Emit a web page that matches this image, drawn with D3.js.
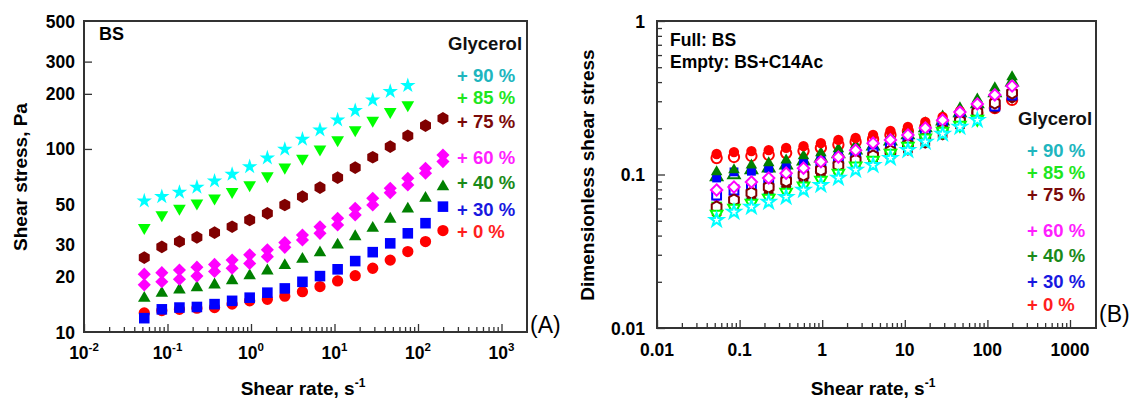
<!DOCTYPE html>
<html><head><meta charset="utf-8">
<script src="https://cdn.jsdelivr.net/npm/d3@7"></script>
<style>
body{margin:0;background:#fff}
svg{display:block}
text{font-family:"Liberation Sans",Arial,sans-serif;font-weight:bold}
</style></head><body>
<svg id="c" width="1134" height="399"></svg>
<script>
// ---------- DATA ----------
const shearRate = [0.0527, 0.0855, 0.139, 0.225, 0.366, 0.594, 0.964, 1.57, 2.54, 4.13, 6.7, 10.9, 17.7, 28.7, 46.5, 75.5, 123, 199];
const glycerolLabels = ["+ 90 %", "+ 85 %", "+ 75 %", "+ 60 %", "+ 40 %", "+ 30 %", "+ 0 %"];

// Panel A: shear stress, Pa (BS)
const stressG90 = [52.0, 54.9, 58.0, 61.8, 66.8, 72.7, 80.0, 89.3, 99.6, 113, 127, 144, 162, 185, 206, 222];
const stressG85 = [37.2, 43.6, 47.4, 50.5, 53.8, 58.4, 63.6, 71.2, 79.4, 88.9, 99.6, 112, 127, 143, 160, 174];
const stressG75 = [25.5, 29.2, 31.2, 32.9, 34.9, 37.6, 40.9, 44.5, 49.4, 54.9, 61.5, 69.7, 79.0, 90.1, 103, 118, 134, 147];
const stressG60a = [20.7, 21.1, 21.8, 22.6, 23.4, 24.7, 26.4, 28.1, 30.8, 33.9, 37.6, 41.8, 47.4, 53.8, 61.0, 69.2, 78.5, 92.7];
const stressG60b = [18.1, 18.8, 19.4, 20.2, 21.4, 22.3, 23.7, 25.8, 29.0, 31.8, 34.6, 38.4, 43.6, 49.4, 57.7, 63.6, 73.6, 85.3];
const stressG40 = [15.3, 16.3, 17.0, 17.5, 18.1, 19.1, 20.3, 21.6, 23.1, 25.0, 27.1, 29.9, 33.2, 36.9, 41.4, 47.0, 53.8, 62.2];
const stressG30 = [11.9, 13.3, 13.6, 13.7, 14.2, 14.8, 15.4, 16.4, 17.3, 18.8, 20.2, 22.0, 24.4, 27.3, 30.5, 34.6, 39.3, 48.4];
const stressG0 = [12.7, 13.1, 13.3, 13.5, 13.6, 14.2, 14.8, 15.1, 15.7, 16.6, 17.7, 19.0, 20.3, 22.3, 24.7, 27.5, 31.2, 35.8];

// Panel B: dimensionless shear stress, Full = BS, Empty = BS+C14Ac
const dimBS90 = [0.0570, 0.0623, 0.0682, 0.0735, 0.0817, 0.0921, 0.102, 0.115, 0.128, 0.140, 0.156, 0.173, 0.195, 0.213, 0.230, 0.240];
const dimBS85 = [0.0633, 0.0682, 0.0735, 0.0793, 0.0867, 0.0949, 0.104, 0.115, 0.128, 0.140, 0.153, 0.170, 0.189, 0.207, 0.226, 0.248];
const dimBS75 = [0.0561, 0.0614, 0.0682, 0.0746, 0.0817, 0.0894, 0.0978, 0.105, 0.114, 0.122, 0.132, 0.144, 0.160, 0.181, 0.207, 0.237, 0.271, 0.315];
const dimBS60 = [0.0703, 0.0735, 0.0793, 0.0842, 0.0907, 0.0963, 0.104, 0.112, 0.124, 0.138, 0.151, 0.165, 0.181, 0.201, 0.226, 0.255, 0.288, 0.330];
const dimBS40 = [0.104, 0.107, 0.115, 0.119, 0.124, 0.132, 0.138, 0.147, 0.156, 0.165, 0.178, 0.195, 0.217, 0.240, 0.271, 0.310, 0.366, 0.432];
const dimBS30 = [0.0949, 0.104, 0.105, 0.110, 0.112, 0.121, 0.128, 0.136, 0.144, 0.153, 0.165, 0.178, 0.195, 0.213, 0.233, 0.259, 0.288, 0.325];
const dimBS0 = [0.136, 0.140, 0.142, 0.144, 0.149, 0.153, 0.160, 0.168, 0.173, 0.181, 0.192, 0.204, 0.220, 0.237, 0.259, 0.284, 0.306, 0.340];

const dimC14_90 = [0.0505, 0.0570, 0.0614, 0.0662, 0.0713, 0.0793, 0.0854, 0.0949, 0.107, 0.115, 0.128, 0.144, 0.163, 0.184, 0.204, 0.226];
const dimC14_85 = [0.0553, 0.0605, 0.0652, 0.0703, 0.0769, 0.0842, 0.0921, 0.102, 0.114, 0.124, 0.138, 0.153, 0.173, 0.192, 0.210, 0.230];
const dimC14_75 = [0.0614, 0.0682, 0.0758, 0.0829, 0.0907, 0.0993, 0.107, 0.115, 0.124, 0.132, 0.142, 0.156, 0.173, 0.195, 0.223, 0.255, 0.292, 0.340];
const dimC14_60 = [0.0793, 0.0829, 0.0894, 0.0949, 0.102, 0.110, 0.121, 0.130, 0.144, 0.160, 0.168, 0.181, 0.201, 0.226, 0.255, 0.288, 0.330, 0.377];
const dimC14_40 = [0.0963, 0.0993, 0.107, 0.110, 0.115, 0.122, 0.128, 0.136, 0.144, 0.153, 0.165, 0.181, 0.201, 0.223, 0.252, 0.288, 0.340, 0.400];
const dimC14_30 = [0.0735, 0.0793, 0.0829, 0.0881, 0.0949, 0.101, 0.110, 0.119, 0.128, 0.138, 0.149, 0.160, 0.181, 0.201, 0.226, 0.252, 0.279, 0.330];
const dimC14_0 = [0.128, 0.130, 0.132, 0.134, 0.138, 0.142, 0.149, 0.156, 0.163, 0.170, 0.181, 0.192, 0.204, 0.220, 0.237, 0.252, 0.271, 0.306];

const yTicksA = [10, 20, 30, 50, 100, 200, 300, 500];
const xExpA = ["-2", "-1", "0", "1", "2", "3"];
const xTicksB = ["0.01", "0.1", "1", "10", "100", "1000"];
const yTicksB = ["0.01", "0.1", "1"];

// ---------- STYLE ----------
const C = {g90:"#00FFFF", g85:"#00FF00", g75:"#800000", g60:"#FF00FF", g40:"#008000", g30:"#0000FF", g0:"#FF0000"};
const T = {g90:"#20B5BE", g85:"#1EE61E", g75:"#7A0A0A", g60:"#FF1EFF", g40:"#1A8A1A", g30:"#1818E0", g0:"#FF1E1E"};
const symHex = {draw(ctx, size){const r=Math.sqrt(size/2.598);for(let k=0;k<6;k++){const a=Math.PI/3*k-Math.PI/2;const px=r*Math.cos(a),py=r*Math.sin(a);k?ctx.lineTo(px,py):ctx.moveTo(px,py);}ctx.closePath();}};
const symDia = {draw(ctx, size){const r=Math.sqrt(size/2);ctx.moveTo(0,-r);ctx.lineTo(r,0);ctx.lineTo(0,r);ctx.lineTo(-r,0);ctx.closePath();}};

const svg = d3.select("#c");
const AX = "#333";

function minorVals(lo, hi){const out=[];for(let d=lo; d<hi*0.99; d*=10){for(let k=2;k<=9;k++) out.push(+(k*d).toPrecision(3));}return out;}

function drawMarkers(g, xs, ys, vals, o){
  const sym = d3.symbol().type(o.type).size(o.size)();
  g.append("g").selectAll("path").data(vals).join("path")
    .attr("d", sym)
    .attr("transform", (v,i)=>`translate(${xs(shearRate[i])},${ys(v)})${o.rot?" rotate(180)":""}`)
    .attr("fill", o.open ? "#fff" : o.color)
    .attr("stroke", o.open ? o.color : "none")
    .attr("stroke-width", o.open ? 2 : 0);
}

// ---------- PANEL A ----------
const xA = d3.scaleLog().domain([0.01, 1000]).range([84, 501.5]);
const yA = d3.scaleLog().domain([10, 500]).range([332, 21]);
const gA = svg.append("g");

function styleAxis(sel){sel.select(".domain").remove();sel.selectAll("line").attr("stroke",AX).attr("stroke-width",1.3);}
gA.append("g").attr("transform","translate(0,332)").call(d3.axisBottom(xA).tickValues(minorVals(0.01,1000)).tickSize(-5).tickFormat("")).call(styleAxis);
gA.append("g").attr("transform","translate(0,332)").call(d3.axisBottom(xA).tickValues([0.01,0.1,1,10,100,1000]).tickSize(-8).tickFormat("")).call(styleAxis);
gA.append("g").attr("transform","translate(84,0)").call(d3.axisLeft(yA).tickValues([100,200,300]).tickSize(-8).tickFormat("")).call(styleAxis);
gA.append("path").attr("d","M84,21H527V332H84Z").attr("fill","none").attr("stroke",AX).attr("stroke-width",2);

yTicksA.forEach(v=>gA.append("text").attr("x",75).attr("y",yA(v)+6.5).attr("text-anchor","end").attr("font-size",17.5).text(v));
[0.01,0.1,1,10,100,1000].forEach((v,i)=>{
  const t=gA.append("text").attr("x",xA(v)).attr("y",359).attr("text-anchor","middle").attr("font-size",17.5);
  t.append("tspan").text("10");
  t.append("tspan").attr("dy",-8).attr("font-size",11.5).text(xExpA[i]);
});

drawMarkers(gA,xA,yA,stressG0,{type:d3.symbolCircle,size:100,color:C.g0});
drawMarkers(gA,xA,yA,stressG30,{type:d3.symbolSquare,size:112,color:C.g30});
drawMarkers(gA,xA,yA,stressG40,{type:d3.symbolTriangle,size:68,color:C.g40});
drawMarkers(gA,xA,yA,stressG60b,{type:symDia,size:86,color:C.g60});
drawMarkers(gA,xA,yA,stressG60a,{type:symDia,size:86,color:C.g60});
drawMarkers(gA,xA,yA,stressG75,{type:symHex,size:104,color:C.g75});
drawMarkers(gA,xA,yA,stressG85,{type:d3.symbolTriangle,size:70,color:C.g85,rot:true});
drawMarkers(gA,xA,yA,stressG90,{type:d3.symbolStar,size:74,color:C.g90});

gA.append("text").attr("x",99).attr("y",40).attr("font-size",18).text("BS");
gA.append("text").attr("x",448).attr("y",50).attr("font-size",18.5).attr("fill","#111").text("Glycerol");
const legYA=[75,97,121,157,182,209,231];
const keys=["g90","g85","g75","g60","g40","g30","g0"];
glycerolLabels.forEach((l,i)=>gA.append("text").attr("x",457).attr("y",legYA[i]+6.5).attr("font-size",18.5).attr("fill",T[keys[i]]).text(l));

gA.append("text").attr("transform","translate(27,177) rotate(-90)").attr("text-anchor","middle").attr("font-size",19).text("Shear stress, Pa");
{const t=gA.append("text").attr("x",303).attr("y",395).attr("text-anchor","middle").attr("font-size",19);
 t.append("tspan").text("Shear rate, s");t.append("tspan").attr("dy",-8).attr("font-size",12).text("-1");}
gA.append("text").attr("x",530).attr("y",333).attr("font-size",23).style("font-weight","normal").text("(A)");

// ---------- PANEL B ----------
const xB = d3.scaleLog().domain([0.01, 1000]).range([657, 1070]);
const yB = d3.scaleLog().domain([0.01, 1]).range([328, 21]);
const gB = svg.append("g");
gB.append("g").attr("transform","translate(0,328)").call(d3.axisBottom(xB).tickValues(minorVals(0.01,1000)).tickSize(-5).tickFormat("")).call(styleAxis);
gB.append("g").attr("transform","translate(0,328)").call(d3.axisBottom(xB).tickValues([0.01,0.1,1,10,100,1000]).tickSize(-8).tickFormat("")).call(styleAxis);
gB.append("g").attr("transform","translate(657,0)").call(d3.axisLeft(yB).tickValues(minorVals(0.01,1)).tickSize(-5).tickFormat("")).call(styleAxis);
gB.append("g").attr("transform","translate(657,0)").call(d3.axisLeft(yB).tickValues([0.01,0.1,1]).tickSize(-8).tickFormat("")).call(styleAxis);
gB.append("path").attr("d","M657,21H1096V328H657Z").attr("fill","none").attr("stroke",AX).attr("stroke-width",2);

yTicksB.forEach(v=>gB.append("text").attr("x",645).attr("y",yB(+v)+6.5).attr("text-anchor","end").attr("font-size",17.5).text(v));
xTicksB.forEach(v=>gB.append("text").attr("x",xB(+v)).attr("y",356).attr("text-anchor","middle").attr("font-size",17.5).text(v));

const oS = {circle:84, square:78, tri:58, dia:64, hex:82, star:54};
drawMarkers(gB,xB,yB,dimC14_0,{type:d3.symbolCircle,size:oS.circle,color:C.g0,open:true});
drawMarkers(gB,xB,yB,dimC14_40,{type:d3.symbolTriangle,size:oS.tri,color:C.g40,open:true});
drawMarkers(gB,xB,yB,dimBS90,{type:d3.symbolStar,size:oS.star,color:C.g90});
drawMarkers(gB,xB,yB,dimBS85,{type:d3.symbolTriangle,size:oS.tri,color:C.g85,rot:true});
drawMarkers(gB,xB,yB,dimBS75,{type:symHex,size:oS.hex,color:C.g75});
drawMarkers(gB,xB,yB,dimBS60,{type:symDia,size:oS.dia,color:C.g60});
drawMarkers(gB,xB,yB,dimBS30,{type:d3.symbolSquare,size:oS.square,color:C.g30});
drawMarkers(gB,xB,yB,dimBS40,{type:d3.symbolTriangle,size:oS.tri,color:C.g40});
drawMarkers(gB,xB,yB,dimBS0,{type:d3.symbolCircle,size:oS.circle,color:C.g0});
drawMarkers(gB,xB,yB,dimC14_30,{type:d3.symbolSquare,size:oS.square,color:C.g30,open:true});
drawMarkers(gB,xB,yB,dimC14_75,{type:symHex,size:oS.hex,color:C.g75,open:true});
drawMarkers(gB,xB,yB,dimC14_60,{type:symDia,size:oS.dia,color:C.g60,open:true});
drawMarkers(gB,xB,yB,dimC14_85,{type:d3.symbolTriangle,size:oS.tri,color:C.g85,rot:true,open:true});
drawMarkers(gB,xB,yB,dimC14_90,{type:d3.symbolStar,size:oS.star,color:C.g90,open:true});

gB.append("text").attr("x",670).attr("y",46).attr("font-size",17.5).text("Full: BS");
gB.append("text").attr("x",670).attr("y",68).attr("font-size",17.5).text("Empty: BS+C14Ac");
gB.append("text").attr("x",1018).attr("y",125).attr("font-size",18.5).attr("fill","#111").text("Glycerol");
const legYB=[150,172,194,230,255,281,304];
glycerolLabels.forEach((l,i)=>gB.append("text").attr("x",1027).attr("y",legYB[i]+6.5).attr("font-size",18.5).attr("fill",T[keys[i]]).text(l));

gB.append("text").attr("transform","translate(594,175) rotate(-90)").attr("text-anchor","middle").attr("font-size",19).text("Dimensionless shear stress");
{const t=gB.append("text").attr("x",873).attr("y",395).attr("text-anchor","middle").attr("font-size",19);
 t.append("tspan").text("Shear rate, s");t.append("tspan").attr("dy",-8).attr("font-size",12).text("-1");}
gB.append("text").attr("x",1099).attr("y",322).attr("font-size",23).style("font-weight","normal").text("(B)");
</script>
</body></html>
